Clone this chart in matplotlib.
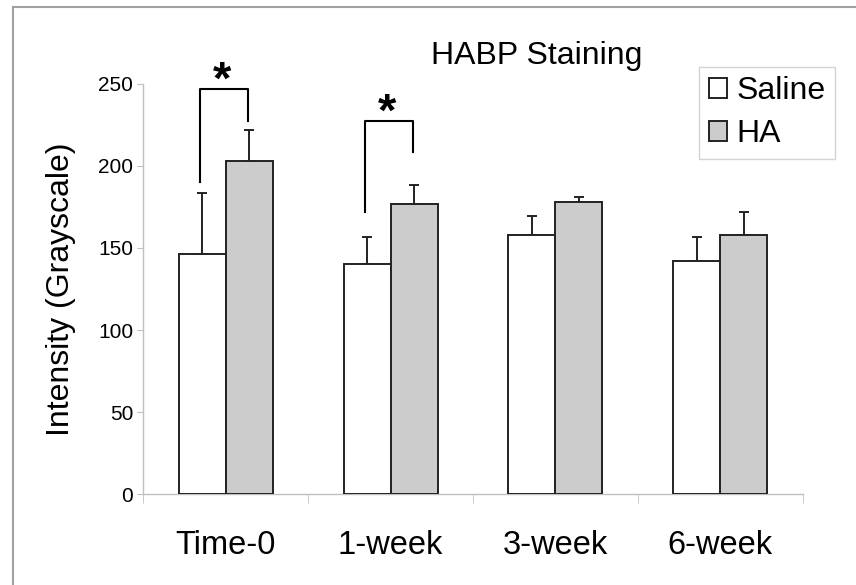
import numpy as np
import matplotlib
matplotlib.use("Agg")
import matplotlib.pyplot as plt
from matplotlib.lines import Line2D

plt.rcParams['font.family'] = ['Liberation Sans', 'DejaVu Sans']

groups = ['Time-0', '1-week', '3-week', '6-week']
saline = [146.5, 140.2, 157.9, 142.3]
saline_err = [36.8, 16.7, 11.4, 14.4]
ha = [203.0, 176.8, 177.8, 157.9]
ha_err = [18.9, 11.6, 3.1, 13.8]

# significance brackets: group index, left foot, top, right foot
brackets = [(0, 190.4, 246.6, 227.5), (1, 172.1, 227.5, 208.6)]
star_y = [251, 232]

fig = plt.figure(figsize=(8.56, 5.85), dpi=100)
ax = fig.add_axes([0.1675, 0.155, 0.7702, 0.702])

x = np.arange(len(groups))
w = 0.285
ecol = '#222222'
ax.bar(x - w / 2, saline, w, color='white', edgecolor=ecol, linewidth=1.4,
       label='Saline', zorder=3)
ax.bar(x + w / 2, ha, w, color='#cccccc', edgecolor=ecol, linewidth=1.4,
       label='HA', zorder=3)
ax.errorbar(x - w / 2, saline, yerr=[np.zeros(4), saline_err], fmt='none',
            ecolor=ecol, elinewidth=1.4, capsize=3.6, capthick=1.4, zorder=2)
ax.errorbar(x + w / 2, ha, yerr=[np.zeros(4), ha_err], fmt='none',
            ecolor=ecol, elinewidth=1.4, capsize=3.6, capthick=1.4, zorder=2)

for (g, yl, yt, yr), sy in zip(brackets, star_y):
    xl, xr = g - 0.155, g + 0.135
    ax.plot([xl, xl, xr, xr], [yl, yt, yt, yr], color='black', lw=1.5,
            clip_on=False, zorder=4)
    ax.text(g - 0.02, sy, '*', fontsize=34, fontweight='bold', ha='center',
            va='center', clip_on=False)

ax.set_xlim(-0.5, 3.5)
ax.set_ylim(0, 250)
ax.set_yticks([0, 50, 100, 150, 200, 250])
ax.set_xticks(x)
ax.set_xticklabels(groups, fontsize=23.5)
ax.set_xticks(np.arange(-0.5, 4, 1), minor=True)
ax.tick_params(axis='x', which='major', length=0, pad=26)
ax.tick_params(axis='x', which='minor', length=6.5, color='#c0c0c0')
ax.tick_params(axis='y', length=4.3, color='#c0c0c0', labelsize=15, pad=3)

for s in ['top', 'right']:
    ax.spines[s].set_visible(False)
for s in ['left', 'bottom']:
    ax.spines[s].set_color('#c0c0c0')
    ax.spines[s].set_linewidth(1.0)

ax.set_ylabel('Intensity (Grayscale)', fontsize=23, labelpad=16)
ax.text(0.597, 1.068, 'HABP Staining', transform=ax.transAxes, fontsize=23,
        ha='center', va='center')

leg = ax.legend(loc='upper right', bbox_to_anchor=(1.049, 1.041), fontsize=23,
                frameon=True, fancybox=False, handlelength=0.56, handleheight=0.56,
                handletextpad=0.3, borderpad=0.3, labelspacing=0.4,
                borderaxespad=0)
leg.get_frame().set_edgecolor('#c8c8c8')
leg.get_frame().set_linewidth(1.0)

# outer frame (top and left only visible in the picture)
fig.add_artist(Line2D([12.5 / 856, 1], [1 - 7 / 585, 1 - 7 / 585],
                      transform=fig.transFigure, color='#a0a0a0', lw=1.5))
fig.add_artist(Line2D([12.5 / 856, 12.5 / 856], [0, 1 - 7 / 585],
                      transform=fig.transFigure, color='#a0a0a0', lw=1.5))

fig.savefig('out.png', dpi=100)
